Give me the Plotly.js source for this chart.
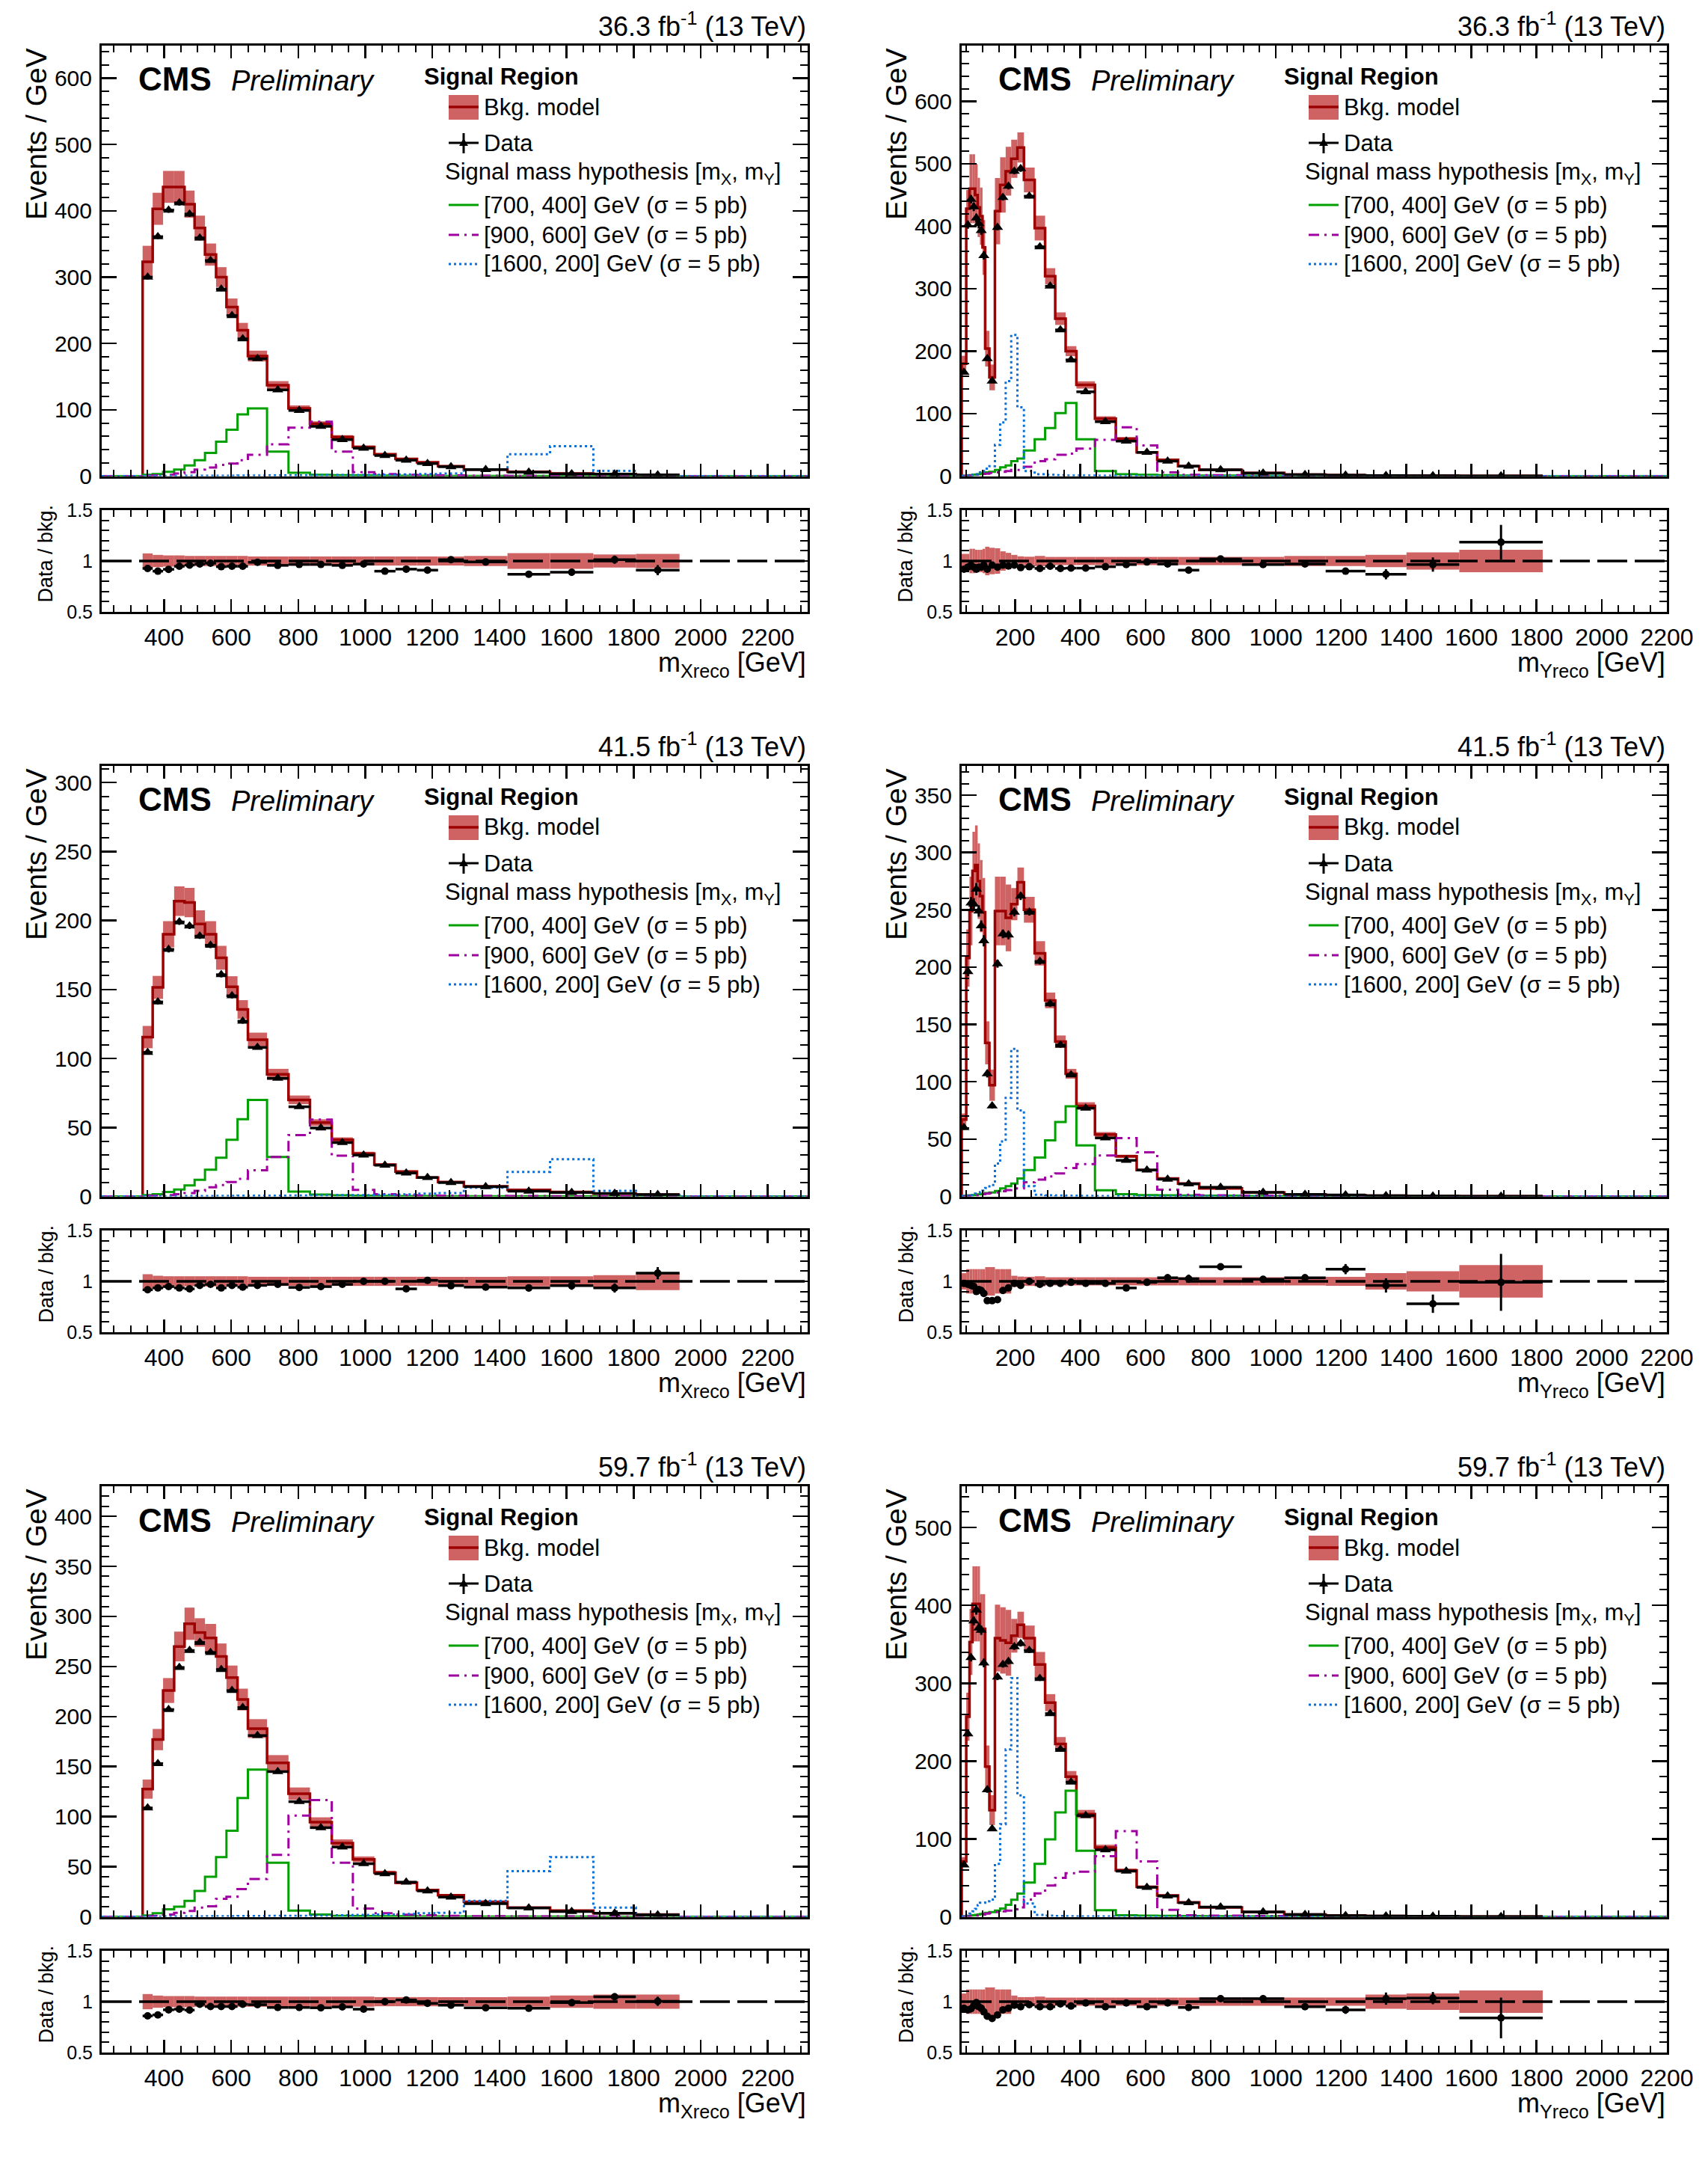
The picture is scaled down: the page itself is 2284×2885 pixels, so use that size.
<!DOCTYPE html>
<html>
<head>
<meta charset="utf-8">
<script src="https://cdn.plot.ly/plotly-3.0.1.min.js"></script>
<style>
  body { margin: 0; background: white; }
  #myDiv { width: 2284px; height: 2885px; }
</style>
</head>
<body>
<div id="myDiv"></div>
<script>
// bin edges (GeV)
var xEdges = [336, 366, 397, 430, 461, 491, 522, 555, 586, 619, 650, 707, 771, 835, 900, 963, 1027, 1090, 1154, 1217, 1294, 1424, 1551, 1680, 1807, 1937];
var yEdges = [36, 50, 60, 69, 77, 85, 92, 100, 108, 121, 138, 154, 171, 188, 207, 227, 260, 292, 323, 355, 388, 445, 509, 573, 636, 700, 765, 896, 1026, 1153, 1275, 1401, 1563, 1819];

// m_Xreco, 36.3 fb-1
var bkgX16 = [323, 403, 436, 436, 410, 374, 334, 300, 255, 220, 181, 137, 102, 79, 59, 44, 33, 26, 21, 15, 10, 6.5, 4, 3, 2];
var dataX16 = [300, 361, 401, 412, 395, 359, 325, 282, 242, 207, 177, 130, 99, 75, 55, 42, 31, 24, 19, 14, 10, 5.8, 3.5, 3, 1.8];
var ratioX16 = [0.927, 0.90, 0.918, 0.948, 0.96, 0.97, 0.978, 0.944, 0.948, 0.948, 0.987, 0.957, 0.966, 0.966, 0.957, 0.97, 0.90, 0.92, 0.91, 1.013, 0.99, 0.87, 0.89, 1.013, 0.91];
var ratioErrX16 = [0.012, 0.01, 0.01, 0.01, 0.01, 0.01, 0.01, 0.011, 0.012, 0.013, 0.01, 0.011, 0.012, 0.014, 0.016, 0.018, 0.02, 0.022, 0.025, 0.026, 0.025, 0.03, 0.035, 0.04, 0.05];
var uncX16 = [0.075, 0.06, 0.055, 0.055, 0.05, 0.05, 0.05, 0.05, 0.05, 0.05, 0.045, 0.045, 0.045, 0.045, 0.045, 0.045, 0.045, 0.045, 0.045, 0.045, 0.05, 0.078, 0.078, 0.065, 0.07];
var greenX16 = [2, 3, 6.5, 10, 16, 24, 35, 52, 70, 93, 102, 37, 5, 2, 1.5, 1, 0.8, 0.6, 0.5, 0.4, 0.3, 0.2, 0.1, 0.1, 0.05];
var magentaX16 = [0.5, 1, 2, 4, 6, 10, 13, 17, 19, 24, 32, 48, 73, 82, 37, 6, 3, 2, 1.5, 1, 0.6, 0.4, 0.3, 0.2, 0.1];
var blueX16 = [0.2, 0.3, 0.3, 0.4, 0.5, 0.5, 0.6, 0.6, 0.7, 0.8, 0.9, 1, 1.2, 1.4, 1.6, 1.8, 2, 2.5, 3, 4, 10, 33, 45, 8, 2];

// m_Yreco, 36.3 fb-1
var bkgY16 = [180, 428, 460, 460, 450, 430, 416, 366, 204, 158, 424, 466, 488, 508, 526, 474, 397, 320, 252, 200, 146, 92, 60, 38, 26, 16, 10, 5, 2.5, 1.5, 0.9, 0.5, 0.25];
var dataY16 = [166, 402, 443, 431, 413, 404, 393, 353, 188, 152, 398, 446, 464, 488, 492, 448, 367, 304, 234, 186, 135, 87, 56, 38, 24, 16, 10.2, 4.8, 2.4, 1.35, 0.78, 0.48, 0.3];
var ratioY16 = [0.92, 0.94, 0.96, 0.94, 0.92, 0.94, 0.94, 0.96, 0.92, 0.96, 0.94, 0.96, 0.95, 0.96, 0.935, 0.944, 0.927, 0.948, 0.927, 0.93, 0.93, 0.944, 0.965, 0.99, 0.97, 0.91, 1.02, 0.965, 0.97, 0.90, 0.87, 0.965, 1.185];
var ratioErrY16 = [0.02, 0.015, 0.015, 0.016, 0.017, 0.018, 0.017, 0.018, 0.019, 0.019, 0.012, 0.011, 0.011, 0.01, 0.01, 0.008, 0.009, 0.01, 0.011, 0.012, 0.011, 0.013, 0.016, 0.02, 0.025, 0.03, 0.02, 0.025, 0.03, 0.03, 0.05, 0.07, 0.17];
var uncY16 = [0.07, 0.07, 0.12, 0.12, 0.11, 0.11, 0.11, 0.12, 0.14, 0.13, 0.125, 0.095, 0.08, 0.06, 0.046, 0.042, 0.05, 0.04, 0.04, 0.04, 0.04, 0.04, 0.04, 0.04, 0.04, 0.04, 0.04, 0.04, 0.05, 0.05, 0.06, 0.085, 0.11];
var greenY16 = [0.5, 1, 1.5, 2, 2.5, 3, 4, 5, 6, 7, 10, 14, 17, 24, 28, 41, 59, 77, 101, 117, 59, 8, 3, 2, 1.5, 1, 0.8, 0.5, 0.3, 0.2, 0.1, 0.1, 0];
var magentaY16 = [0.3, 0.5, 1, 1.5, 2, 2.5, 3, 3.5, 4, 5, 6, 7, 8, 10, 10, 15, 24, 27, 34, 36, 44, 58, 78, 49, 6, 2, 1.5, 1, 0.6, 0.4, 0.2, 0.1, 0];
var blueY16 = [0.3, 1, 1.5, 2, 3, 4, 6, 8, 12, 16, 50, 86, 152, 226, 110, 8, 3, 2, 1.5, 1, 0.8, 0.5, 0.4, 0.3, 0.2, 0.2, 0.1, 0.1, 0.05, 0.05, 0, 0, 0];

// m_Xreco, 41.5 fb-1
var bkgX17 = [115.5, 151.5, 190, 214, 213, 197.5, 190, 173, 152, 135.5, 113.6, 88.5, 70, 53.5, 41, 31, 23, 18, 13.7, 10.5, 7.3, 4.8, 3.2, 2, 1.3];
var dataX17 = [104.4, 141, 179, 199, 196, 188.7, 182, 160.7, 145.4, 127, 108, 85.6, 65, 49.6, 39, 30, 22.6, 17, 13.7, 10, 7, 3.8, 2.9, 2.2, 1.4];
var ratioX17 = [0.917, 0.935, 0.948, 0.935, 0.926, 0.96, 0.97, 0.935, 0.96, 0.943, 0.96, 0.97, 0.94, 0.948, 0.97, 1.0, 1.0, 0.926, 1.01, 0.957, 0.943, 0.935, 0.957, 0.935, 1.08];
var ratioErrX17 = [0.015, 0.013, 0.012, 0.011, 0.011, 0.011, 0.011, 0.012, 0.013, 0.014, 0.013, 0.014, 0.016, 0.018, 0.02, 0.022, 0.025, 0.028, 0.03, 0.032, 0.03, 0.035, 0.04, 0.045, 0.06];
var uncX17 = [0.07, 0.055, 0.05, 0.05, 0.05, 0.05, 0.05, 0.05, 0.05, 0.05, 0.045, 0.045, 0.045, 0.045, 0.045, 0.045, 0.045, 0.045, 0.045, 0.045, 0.045, 0.05, 0.05, 0.06, 0.087];
var greenX17 = [1, 1.6, 3.2, 5, 8, 12, 19.4, 28, 41, 56, 70, 28.6, 3.5, 1.3, 0.8, 0.5, 0.4, 0.3, 0.3, 0.2, 0.2, 0.1, 0.1, 0.05, 0.05];
var magentaX17 = [0.5, 0.5, 1, 1.6, 2.5, 4, 6.7, 8.3, 10.5, 12.7, 19, 28.6, 44.5, 55.7, 29.6, 4.8, 1.6, 1, 0.7, 0.5, 0.4, 0.3, 0.2, 0.1, 0.1];
var blueX17 = [0.1, 0.1, 0.2, 0.2, 0.3, 0.3, 0.3, 0.4, 0.4, 0.5, 0.5, 0.6, 0.7, 0.8, 0.9, 1, 1.2, 1.5, 2, 2.5, 6.4, 17.8, 27, 4, 1];

// m_Yreco, 41.5 fb-1
var bkgY17 = [67, 208, 249, 284, 289, 275, 262, 248, 134, 97, 249, 249, 243, 255, 274, 250, 212, 171, 135, 107, 79, 54, 35, 23, 15.7, 11.3, 7, 3.5, 1.8, 1.1, 0.6, 0.35, 0.2];
var dataY17 = [60, 196, 256, 255, 268, 249, 236, 223, 107, 79, 203, 229, 228, 248, 262, 248, 205, 168, 132, 106, 77, 51, 31.5, 23, 15, 11, 8, 3.57, 1.86, 1.23, 0.58, 0.27, 0.2];
var ratioY17 = [0.98, 0.97, 0.96, 0.95, 0.90, 0.92, 0.91, 0.88, 0.81, 0.81, 0.82, 0.91, 0.935, 0.98, 0.96, 1.0, 0.97, 0.98, 0.98, 0.99, 0.98, 0.98, 0.935, 0.99, 1.035, 1.026, 1.143, 1.02, 1.035, 1.12, 0.96, 0.78, 0.99];
var ratioErrY17 = [0.03, 0.02, 0.02, 0.02, 0.02, 0.02, 0.02, 0.022, 0.03, 0.03, 0.017, 0.016, 0.016, 0.015, 0.013, 0.012, 0.013, 0.015, 0.017, 0.018, 0.017, 0.02, 0.025, 0.03, 0.035, 0.04, 0.015, 0.022, 0.035, 0.05, 0.07, 0.09, 0.28];
var uncY17 = [0.08, 0.12, 0.12, 0.12, 0.12, 0.12, 0.12, 0.12, 0.14, 0.14, 0.12, 0.12, 0.12, 0.055, 0.047, 0.045, 0.05, 0.04, 0.04, 0.04, 0.04, 0.04, 0.04, 0.04, 0.04, 0.04, 0.04, 0.04, 0.04, 0.045, 0.08, 0.10, 0.16];
var greenY17 = [0.5, 0.8, 1, 1.2, 1.5, 1.8, 2, 2.5, 3, 3.5, 4.8, 7, 9, 11.3, 15.7, 23, 34, 49, 65, 78.7, 44.6, 5.4, 2, 1.2, 1, 0.8, 0.6, 0.4, 0.3, 0.2, 0.1, 0.1, 0];
var magentaY17 = [0.2, 0.3, 0.5, 0.7, 1, 1.2, 1.5, 2, 2.5, 3, 3.5, 4.5, 5.5, 7, 7, 12.4, 14.6, 17.4, 20, 24.8, 28.3, 35.7, 50.9, 38.5, 5.9, 1.5, 1, 0.7, 0.5, 0.3, 0.2, 0.1, 0];
var blueY17 = [0.3, 0.8, 1.2, 1.8, 2.5, 3, 3.7, 5, 7.4, 10, 28.7, 48, 86, 128.7, 75, 9, 1.5, 1, 0.8, 0.6, 0.5, 0.4, 0.3, 0.2, 0.2, 0.1, 0.1, 0.05, 0.05, 0, 0, 0, 0];

// m_Xreco, 59.7 fb-1
var bkgX18 = [127.5, 177, 226, 270, 292.7, 284, 278.6, 260, 239, 217, 188, 153.8, 123, 94.6, 73.6, 57.4, 44, 34, 26.7, 21.5, 15, 9.2, 6.1, 3.5, 2.2];
var dataX18 = [108.7, 153, 207, 249, 266, 274, 264, 247, 226, 209, 181, 145, 115, 89, 69.6, 53, 43, 34.6, 25.8, 19.7, 13, 8.8, 5.3, 3.5, 1.8];
var ratioX18 = [0.86, 0.87, 0.92, 0.926, 0.917, 0.974, 0.952, 0.952, 0.952, 0.974, 0.97, 0.943, 0.943, 0.94, 0.948, 0.926, 1.0, 1.017, 0.983, 0.965, 0.94, 0.935, 0.99, 1.048, 1.004];
var ratioErrX18 = [0.012, 0.01, 0.009, 0.008, 0.008, 0.008, 0.008, 0.008, 0.009, 0.009, 0.009, 0.009, 0.01, 0.011, 0.012, 0.013, 0.015, 0.017, 0.02, 0.022, 0.02, 0.025, 0.03, 0.035, 0.045];
var uncX18 = [0.075, 0.06, 0.055, 0.055, 0.055, 0.05, 0.05, 0.05, 0.05, 0.05, 0.05, 0.05, 0.05, 0.05, 0.05, 0.05, 0.045, 0.045, 0.045, 0.045, 0.045, 0.05, 0.06, 0.07, 0.07];
var greenX18 = [1.3, 3.5, 7.4, 10, 15.8, 25.8, 40, 59.6, 86, 118.7, 147, 54, 6.1, 2.2, 1, 0.8, 0.6, 0.5, 0.4, 0.3, 0.2, 0.1, 0.1, 0.05, 0.05];
var magentaX18 = [0.5, 1, 2.2, 4, 5.7, 9.2, 10.5, 18, 20, 27.6, 37.7, 61.8, 101, 116.5, 54, 8.3, 3.5, 2, 1.5, 1, 0.6, 0.4, 0.3, 0.2, 0.1];
var blueX18 = [0.2, 0.2, 0.3, 0.3, 0.4, 0.4, 0.5, 0.5, 0.6, 0.7, 0.8, 0.9, 1, 1.2, 1.5, 1.8, 2.2, 2.8, 3.5, 4, 15.8, 45.6, 59.6, 9.2, 1.8];

// m_Yreco, 59.7 fb-1
var bkgY18 = [71, 257, 353, 402, 402, 402, 370, 370, 193, 137, 358, 355, 352, 361, 375, 358, 324, 275, 222, 180, 132, 89, 59.5, 38.4, 27.5, 18.6, 12, 6, 3, 1.7, 1.0, 0.6, 0.3];
var dataY18 = [66.6, 235, 333, 380, 394, 371, 368, 326, 163, 113, 308, 324, 328, 347, 351, 342, 306, 261, 215, 173, 130, 86, 58.6, 37.8, 26.6, 18, 12.4, 6.2, 2.85, 1.56, 1.03, 0.62, 0.25];
var ratioY18 = [0.935, 0.92, 0.93, 0.96, 0.99, 0.95, 0.935, 0.90, 0.857, 0.835, 0.87, 0.92, 0.935, 0.965, 0.95, 0.97, 0.95, 0.95, 0.978, 0.957, 0.987, 0.95, 0.987, 0.95, 0.987, 0.943, 1.03, 1.03, 0.95, 0.92, 1.03, 1.035, 0.84];
var ratioErrY18 = [0.025, 0.015, 0.015, 0.015, 0.015, 0.016, 0.016, 0.017, 0.023, 0.025, 0.013, 0.012, 0.012, 0.012, 0.011, 0.009, 0.01, 0.011, 0.012, 0.013, 0.012, 0.014, 0.018, 0.022, 0.025, 0.03, 0.012, 0.017, 0.025, 0.04, 0.06, 0.06, 0.2];
var uncY18 = [0.08, 0.12, 0.12, 0.12, 0.12, 0.12, 0.12, 0.12, 0.14, 0.14, 0.12, 0.12, 0.12, 0.06, 0.045, 0.045, 0.05, 0.04, 0.04, 0.04, 0.04, 0.04, 0.04, 0.04, 0.04, 0.04, 0.04, 0.04, 0.04, 0.04, 0.07, 0.08, 0.11];
var greenY18 = [0.5, 1, 1.5, 2, 2.5, 3, 3.5, 4, 5, 6, 8, 10.6, 15.4, 21.8, 29.8, 44, 68, 99.5, 134, 162, 84.8, 8.3, 2, 1.5, 1.2, 1, 0.7, 0.5, 0.3, 0.2, 0.1, 0.1, 0];
var magentaY18 = [0.3, 0.5, 0.8, 1, 1.5, 2, 2.5, 3, 4, 5, 6, 7, 8, 9.6, 12, 22, 30, 40, 50, 56, 58, 77.8, 110, 71, 9, 2, 1.5, 1, 0.6, 0.4, 0.2, 0.1, 0];
var blueY18 = [0.5, 1.5, 4, 7, 10, 15, 18, 18, 20, 22, 68, 119, 215, 306.6, 156, 17, 2.5, 1.5, 1, 0.8, 0.6, 0.5, 0.4, 0.3, 0.2, 0.2, 0.1, 0.1, 0.05, 0.05, 0, 0, 0];

var lumiLabels = ['36.3', '36.3', '41.5', '41.5', '59.7', '59.7'];
var signalNames = ['[700, 400] GeV (\u03c3 = 5 pb)', '[900, 600] GeV (\u03c3 = 5 pb)', '[1600, 200] GeV (\u03c3 = 5 pb)'];

// ---- styling / geometry ----
var W = 2284, H = 2885;
var FONT = 'Liberation Sans, Arial, Helvetica, sans-serif';
var BAND = 'rgb(207,99,99)';
var RED = '#9c0000';
var SIGCOL = ['#00a000', '#a000a0', '#0a6fd8'];
var SIGDASH = ['solid', '14px,7px,3px,7px', '3px,4px'];

var colL = [136, 1286], colR = [1080, 2229];
var mainTop = [61, 1024, 1987], mainBot = [636.5, 1599.5, 2562.5];
var ratTop = [682, 1645, 2608], ratBot = [818, 1781, 2744];

function fx(v) { return v / W; }
function fy(v) { return 1 - v / H; }

var panels = [
  {edges: xEdges, bkg: bkgX16, data: dataX16, ratio: ratioX16, rerr: ratioErrX16, unc: uncX16, sig: [greenX16, magentaX16, blueX16], xr: [214, 2319], yMax: 649, yD: 100, yMin: 20, var: 'Xreco', col: 0, row: 0},
  {edges: yEdges, bkg: bkgY16, data: dataY16, ratio: ratioY16, rerr: ratioErrY16, unc: uncY16, sig: [greenY16, magentaY16, blueY16], xr: [36, 2200], yMax: 689, yD: 100, yMin: 20, var: 'Yreco', col: 1, row: 0},
  {edges: xEdges, bkg: bkgX17, data: dataX17, ratio: ratioX17, rerr: ratioErrX17, unc: uncX17, sig: [greenX17, magentaX17, blueX17], xr: [214, 2319], yMax: 312, yD: 50, yMin: 10, var: 'Xreco', col: 0, row: 1},
  {edges: yEdges, bkg: bkgY17, data: dataY17, ratio: ratioY17, rerr: ratioErrY17, unc: uncY17, sig: [greenY17, magentaY17, blueY17], xr: [36, 2200], yMax: 375.5, yD: 50, yMin: 10, var: 'Yreco', col: 1, row: 1},
  {edges: xEdges, bkg: bkgX18, data: dataX18, ratio: ratioX18, rerr: ratioErrX18, unc: uncX18, sig: [greenX18, magentaX18, blueX18], xr: [214, 2319], yMax: 430, yD: 50, yMin: 10, var: 'Xreco', col: 0, row: 2},
  {edges: yEdges, bkg: bkgY18, data: dataY18, ratio: ratioY18, rerr: ratioErrY18, unc: uncY18, sig: [greenY18, magentaY18, blueY18], xr: [36, 2200], yMax: 553, yD: 100, yMin: 20, var: 'Yreco', col: 1, row: 2}
];

var traces = [];
var layout = {
  width: W, height: H,
  margin: {l: 0, r: 0, t: 0, b: 0},
  paper_bgcolor: 'white', plot_bgcolor: 'rgba(0,0,0,0)',
  showlegend: false, hovermode: false, barmode: 'overlay',
  separators: '.,',
  font: {family: FONT, color: 'black'},
  annotations: [], shapes: []
};

function axisBase() {
  return {
    showline: true, linecolor: 'black', linewidth: 3, mirror: 'allticks',
    ticks: 'inside', tickcolor: 'black', tickwidth: 2.5,
    showgrid: false, zeroline: false, fixedrange: true
  };
}

function ann(x, y, text, size, opts) {
  var a = {xref: 'paper', yref: 'paper', x: fx(x), y: fy(y), text: text, showarrow: false,
           xanchor: 'left', yanchor: 'middle', font: {family: FONT, size: size, color: 'black'}};
  for (var k in (opts || {})) a[k] = opts[k];
  layout.annotations.push(a);
}
function seg(x0, y0, x1, y1, color, width, dash) {
  layout.shapes.push({type: 'line', xref: 'paper', yref: 'paper', x0: fx(x0), y0: fy(y0), x1: fx(x1), y1: fy(y1),
                      line: {color: color, width: width, dash: dash || 'solid'}});
}

panels.forEach(function (p, i) {
  var mi = 2 * i + 1, ri = 2 * i + 2;
  var mx = 'x' + (mi === 1 ? '' : mi), my = 'y' + (mi === 1 ? '' : mi);
  var rx = 'x' + ri, ry = 'y' + ri;
  var l = colL[p.col], r = colR[p.col];
  var top = mainTop[p.row], bot = mainBot[p.row], rt = ratTop[p.row], rb = ratBot[p.row];

  var nb = p.bkg.length;
  var centers = [], widths = [], halfW = [];
  var bandLo = [], bandH = [], rLo = [], rH = [], dErr = [];
  for (var k = 0; k < nb; k++) {
    centers.push((p.edges[k] + p.edges[k + 1]) / 2);
    widths.push(p.edges[k + 1] - p.edges[k]);
    halfW.push((p.edges[k + 1] - p.edges[k]) / 2);
    bandLo.push(p.bkg[k] * (1 - p.unc[k]));
    bandH.push(2 * p.bkg[k] * p.unc[k]);
    rLo.push(1 - p.unc[k]);
    rH.push(2 * p.unc[k]);
    dErr.push(p.data[k] * p.rerr[k]);
  }

  // main pad
  traces.push({type: 'bar', x: centers, y: bandH, base: bandLo, width: widths, xaxis: mx, yaxis: my,
               marker: {color: BAND, line: {width: 0}}, hoverinfo: 'skip'});
  traces.push({type: 'scatter', mode: 'lines', xaxis: mx, yaxis: my,
               x: [p.edges[0]].concat(p.edges), y: [0].concat(p.bkg, [p.bkg[nb - 1]]),
               line: {shape: 'hv', color: RED, width: 3.5}});
  p.sig.forEach(function (s, j) {
    traces.push({type: 'scatter', mode: 'lines', xaxis: mx, yaxis: my,
                 x: [p.xr[0]].concat(p.edges, [p.xr[1]]), y: [0].concat(s, [0, 0]),
                 line: {shape: 'hv', color: SIGCOL[j], width: 3, dash: SIGDASH[j]}});
  });
  traces.push({type: 'scatter', mode: 'markers', xaxis: mx, yaxis: my, x: centers, y: p.data,
               marker: {symbol: 'triangle-up', size: 13, color: 'black'},
               error_x: {type: 'data', array: halfW, width: 0, thickness: 3.5, color: 'black'},
               error_y: {type: 'data', array: dErr, width: 0, thickness: 3, color: 'black'}});

  // ratio pad
  traces.push({type: 'bar', x: centers, y: rH, base: rLo, width: widths, xaxis: rx, yaxis: ry,
               marker: {color: BAND, line: {width: 0}}, hoverinfo: 'skip'});
  traces.push({type: 'scatter', mode: 'lines', xaxis: rx, yaxis: ry, x: p.xr, y: [1, 1],
               line: {color: 'black', width: 3.5, dash: '40px,10px'}});
  traces.push({type: 'scatter', mode: 'markers', xaxis: rx, yaxis: ry, x: centers, y: p.ratio,
               marker: {symbol: 'circle', size: 10, color: 'black'},
               error_x: {type: 'data', array: halfW, width: 0, thickness: 3.5, color: 'black'},
               error_y: {type: 'data', array: p.rerr, width: 0, thickness: 3, color: 'black'}});

  var minorX = {ticks: 'inside', ticklen: 9, dtick: 50, tick0: 0, tickcolor: 'black', tickwidth: 2};
  var ax = axisBase();
  ax.domain = [fx(l), fx(r)]; ax.range = p.xr; ax.anchor = my;
  ax.tickmode = 'linear'; ax.tick0 = 0; ax.dtick = 200; ax.ticklen = 17; ax.minor = minorX;
  ax.showticklabels = false;
  layout[mi === 1 ? 'xaxis' : 'xaxis' + mi] = ax;

  var ay = axisBase();
  ay.domain = [fy(bot), fy(top)]; ay.range = [0, p.yMax]; ay.anchor = mx;
  ay.tickmode = 'linear'; ay.tick0 = 0; ay.dtick = p.yD; ay.ticklen = 20;
  ay.minor = {ticks: 'inside', ticklen: 10, dtick: p.yMin, tick0: 0, tickcolor: 'black', tickwidth: 2};
  ay.tickfont = {family: FONT, size: 30, color: 'black'};
  ay.ticklabelstandoff = 4;
  layout[mi === 1 ? 'yaxis' : 'yaxis' + mi] = ay;

  var rxa = axisBase();
  rxa.domain = [fx(l), fx(r)]; rxa.range = p.xr; rxa.anchor = ry;
  rxa.tickmode = 'linear'; rxa.tick0 = 0; rxa.dtick = 200; rxa.ticklen = 17; rxa.minor = minorX;
  rxa.tickformat = 'd';
  rxa.tickfont = {family: FONT, size: 32, color: 'black'};
  rxa.ticklabelstandoff = 4;
  layout['xaxis' + ri] = rxa;

  var rya = axisBase();
  rya.domain = [fy(rb), fy(rt)]; rya.range = [0.5, 1.5]; rya.anchor = rx;
  rya.tickmode = 'array'; rya.tickvals = [0.5, 1, 1.5]; rya.ticktext = ['0.5', '1', '1.5']; rya.ticklen = 20;
  rya.minor = {ticks: 'inside', ticklen: 10, dtick: 0.1, tick0: 0.5, tickcolor: 'black', tickwidth: 2};
  rya.tickfont = {family: FONT, size: 25, color: 'black'};
  rya.ticklabelstandoff = 4;
  layout['yaxis' + ri] = rya;

  // texts
  ann(r, top - 3, lumiLabels[i] + ' fb<sup>-1</sup> (13 TeV)', 36, {xanchor: 'right', yanchor: 'bottom'});
  ann(l + 47, top + 45, '<b>CMS</b>', 44);
  ann(l + 171, top + 47.5, '<i>Preliminary</i>', 38);
  ann(l + 429, top + 41, '<b>Signal Region</b>', 31);
  ann(l + 509, top + 82, 'Bkg. model', 31);
  ann(l + 509, top + 130, 'Data', 31);
  ann(l + 457, top + 171, 'Signal mass hypothesis [m<sub>X</sub>, m<sub>Y</sub>]', 31);
  [213, 253, 292].forEach(function (dy, j) { ann(l + 509, top + dy, signalNames[j], 31); });
  ann(l - 88, top + 1, 'Events / GeV', 39, {textangle: -90, xanchor: 'center', yanchor: 'top'});
  ann(l - 75, rt - 9, 'Data / bkg.', 27, {textangle: -90, xanchor: 'center', yanchor: 'top'});
  ann(r, rb + 45, 'm<sub>' + p.var + '</sub> [GeV]', 36, {xanchor: 'right', yanchor: 'top'});

  // legend symbols
  layout.shapes.push({type: 'rect', xref: 'paper', yref: 'paper', x0: fx(l + 464), x1: fx(l + 504),
                      y0: fy(top + 99), y1: fy(top + 66), fillcolor: BAND, line: {width: 0}});
  seg(l + 464, top + 82, l + 504, top + 82, RED, 3.5);
  seg(l + 464, top + 130, l + 504, top + 130, 'black', 3);
  seg(l + 484, top + 117, l + 484, top + 144, 'black', 3);
  layout.shapes.push({type: 'path', xref: 'paper', yref: 'paper', fillcolor: 'black', line: {width: 0},
                      path: 'M ' + fx(l + 478) + ' ' + fy(top + 134) + ' L ' + fx(l + 490) + ' ' + fy(top + 134) +
                            ' L ' + fx(l + 484) + ' ' + fy(top + 124) + ' Z'});
  [213, 253, 292].forEach(function (dy, j) { seg(l + 464, top + dy, l + 504, top + dy, SIGCOL[j], 3, SIGDASH[j]); });
});

Plotly.newPlot('myDiv', traces, layout, {staticPlot: true});
</script>
</body>
</html>
